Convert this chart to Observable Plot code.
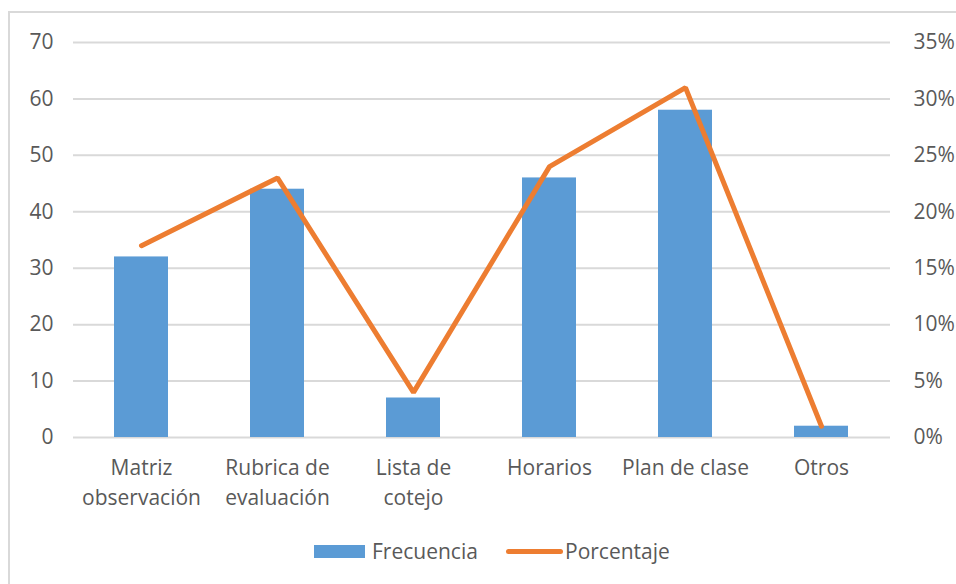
<!DOCTYPE html>
<html>
<head>
<meta charset="utf-8">
<script src="https://cdn.jsdelivr.net/npm/d3@7"></script>
<script src="https://cdn.jsdelivr.net/npm/@observablehq/plot@0.6"></script>
<style>
  html, body { margin: 0; padding: 0; background: #fff; }
  #wrap { position: relative; width: 956px; height: 584px; overflow: hidden; font-family: "Open Sans", sans-serif; }
  #frame { position: absolute; left: 8px; top: 11px; width: 1000px; height: 700px; border: 2px solid #d9d9d9; box-sizing: border-box; }
  #chart { position: absolute; left: 0; top: 0; }
  #legend { position: absolute; left: 0; top: 530px; width: 956px; height: 44px; }
  .lg { position: absolute; top: 0; font-size: 21px; color: #595959; line-height: 42px; white-space: nowrap; }
</style>
</head>
<body>
<div id="wrap">
  <div id="frame"></div>
  <div id="chart"></div>
  <div id="legend"></div>
</div>
<script>
const categories = ["Matriz\nobservación", "Rubrica de\nevaluación", "Lista de\ncotejo", "Horarios", "Plan de clase", "Otros"];
const frecuencia = [32, 44, 7, 46, 58, 2];
const porcentaje = [17, 23, 4, 24, 31, 1]; // percent
const leftTicks = [0, 10, 20, 30, 40, 50, 60, 70];
const rightTickLabels = ["0%", "5%", "10%", "15%", "20%", "25%", "30%", "35%"];
const seriesNames = ["Frecuencia", "Porcentaje"];

const barColor = "#5B9BD5";
const lineColor = "#ED7D31";
const textColor = "#595959";

const data = categories.map((c, i) => ({cat: c, f: frecuencia[i], p: porcentaje[i]}));
// right axis: 0–35% shares the same vertical extent as 0–70
const pctToY = p => p * 70 / 35;

const chart = Plot.plot({
  width: 956,
  height: 520,
  marginLeft: 73,
  marginRight: 66,
  marginTop: 42,
  marginBottom: 83,
  style: {fontFamily: "'Open Sans', sans-serif", fontSize: "21px", color: textColor, background: "transparent"},
  x: {domain: categories, paddingInner: 0.6, paddingOuter: 0.3},
  y: {domain: [0, 70]},
  marks: [
    Plot.gridY(leftTicks, {stroke: "#d9d9d9", strokeOpacity: 1, strokeWidth: 2}),
    Plot.barY(data, {x: "cat", y: "f", fill: barColor}),
    Plot.line(data, {x: "cat", y: d => pctToY(d.p), stroke: lineColor, strokeWidth: 5, strokeLinejoin: "miter", strokeLinecap: "round"}),
    Plot.axisY(leftTicks, {anchor: "left", tickSize: 0, tickPadding: 20, fontSize: 21, fill: textColor, label: null}),
    Plot.axisY(leftTicks, {anchor: "right", tickSize: 0, tickPadding: 23, fontSize: 21, fill: textColor, label: null,
      tickFormat: d => rightTickLabels[leftTicks.indexOf(d)], textAnchor: "start"}),
    Plot.axisX({anchor: "bottom", tickSize: 0, tickPadding: 16, fontSize: 21, fill: textColor, lineHeight: 1.43, label: null})
  ]
});
document.getElementById("chart").appendChild(chart);

const legend = document.getElementById("legend");
legend.innerHTML = `
  <div style="position:absolute;left:314px;top:15px;width:51px;height:13px;background:${barColor}"></div>
  <div class="lg" style="left:372px">${seriesNames[0]}</div>
  <div style="position:absolute;left:506px;top:19px;width:57px;height:5px;border-radius:3px;background:${lineColor}"></div>
  <div class="lg" style="left:565px">${seriesNames[1]}</div>
`;
</script>
</body>
</html>
